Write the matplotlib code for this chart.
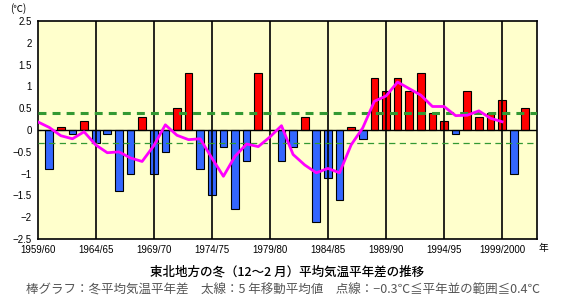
import numpy as np
import matplotlib
matplotlib.use("Agg")
import matplotlib.pyplot as plt
from matplotlib import ticker

# winter (Dec-Feb) mean temperature anomaly, Tohoku, 1959/60 .. 2001/02
seasons = ["1959/60", "1960/61", "1961/62", "1962/63", "1963/64", "1964/65", "1965/66",
           "1966/67", "1967/68", "1968/69", "1969/70", "1970/71", "1971/72", "1972/73",
           "1973/74", "1974/75", "1975/76", "1976/77", "1977/78", "1978/79", "1979/80",
           "1980/81", "1981/82", "1982/83", "1983/84", "1984/85", "1985/86", "1986/87",
           "1987/88", "1988/89", "1989/90", "1990/91", "1991/92", "1992/93", "1993/94",
           "1994/95", "1995/96", "1996/97", "1997/98", "1998/99", "1999/2000", "2000/01",
           "2001/02"]
anomaly = [0.0, -0.9, 0.08, -0.1, 0.2, -0.3, -0.1, -1.4, -1.0, 0.3, -1.0, -0.5, 0.5, 1.3,
           -0.9, -1.5, -0.4, -1.8, -0.7, 1.3, 0.0, -0.7, -0.4, 0.3, -2.1, -1.1, -1.6, 0.08,
           -0.2, 1.2, 0.9, 1.2, 0.9, 1.3, 0.4, 0.2, -0.1, 0.9, 0.3, 0.4, 0.7, -1.0, 0.5]
# 5-year running mean (thick line), 1959/60 .. 1999/2000
running_mean = [0.19, 0.06, -0.13, -0.2, -0.04, -0.34, -0.52, -0.5, -0.64, -0.72, -0.36,
                0.12, -0.12, -0.22, -0.2, -0.64, -1.06, -0.6, -0.32, -0.38, -0.16, 0.1,
                -0.56, -0.8, -0.98, -0.88, -0.98, -0.34, 0.05, 0.66, 0.78, 1.1, 0.95, 0.8,
                0.54, 0.54, 0.33, 0.34, 0.44, 0.27, 0.19]
normal_upper = 0.4
normal_lower = -0.3
tick_labels = ["1959/60", "1964/65", "1969/70", "1974/75", "1979/80", "1984/85",
               "1989/90", "1994/95", "1999/2000"]

fig = plt.figure(figsize=(5.7, 3.0), dpi=100)
ax = fig.add_axes([0.066, 0.203, 0.876, 0.727])
ax.set_facecolor("#FFFFCC")

x = np.arange(len(anomaly))
vals = np.array(anomaly)
colors = np.where(vals >= 0, "#FF0000", "#3366FF")
ax.bar(x, vals, width=0.66, color=colors, edgecolor="black", linewidth=0.8, zorder=2)

ax.axhline(0, color="black", lw=1.0, zorder=3)
for i in range(5, len(anomaly), 5):
    ax.axvline(i, color="black", lw=1.2, zorder=3)

ax.axhline(normal_upper, color="#339933", lw=2.2, ls=(0, (2.6, 2.0)), zorder=4)
ax.axhline(normal_lower, color="#339933", lw=0.9, ls=(0, (5, 3.5)), zorder=4)

ax.plot(np.arange(len(running_mean)), running_mean, color="#FF00FF", lw=2, zorder=5)

ax.set_xlim(0, 43)
ax.set_ylim(-2.5, 2.5)
ax.set_xticks(np.arange(0, 41, 5))
ax.set_xticklabels(tick_labels)
ax.set_yticks(np.arange(-2.5, 2.51, 0.5))
ax.yaxis.set_major_formatter(ticker.FuncFormatter(lambda v, p: ("%g" % v).replace("-", "\u2212")))
ax.tick_params(length=0, labelsize=7, pad=4)
for lab in ax.get_xticklabels() + ax.get_yticklabels():
    lab.set_fontfamily("Liberation Sans")
for s in ax.spines.values():
    s.set_linewidth(1.2)

jp = ["Noto Sans CJK JP", "DejaVu Sans"]
fig.text(0.032, 0.972, "(℃)", fontsize=7, family=jp, ha="center", va="center")
fig.text(0.944, 0.173, "年", fontsize=7, family=jp, ha="left", va="center")
fig.text(0.503, 0.093, "東北地方の冬（12～2 月）平均気温平年差の推移", fontsize=9,
         family=jp, ha="center", va="center", fontweight="medium")
fig.text(0.497, 0.033, "棒グラフ：冬平均気温平年差　太線：5 年移動平均値　点線：−0.3℃≦平年並の範囲≦0.4℃",
         fontsize=9, family=jp, ha="center", va="center", color="#555555")

fig.savefig("out.png", dpi=100)
